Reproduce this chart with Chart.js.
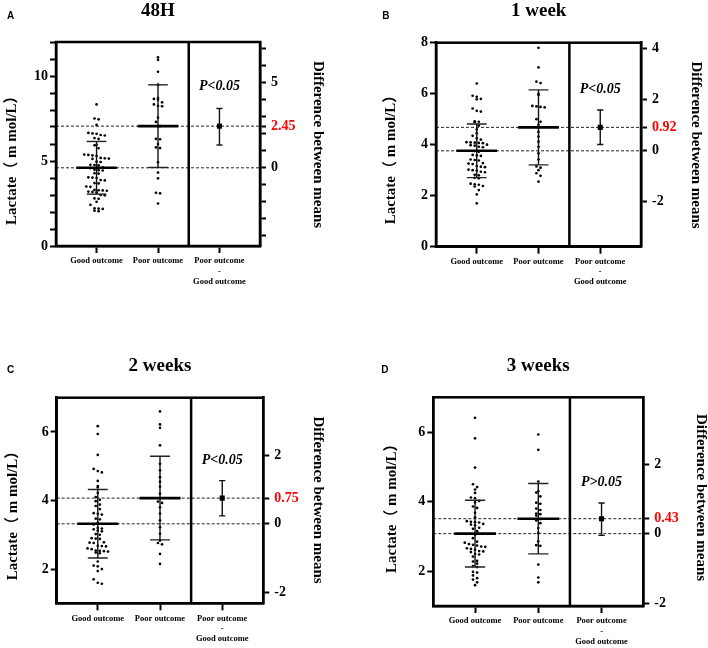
<!DOCTYPE html>
<html><head><meta charset="utf-8">
<script src="https://cdn.jsdelivr.net/npm/chart.js@4.4.0/dist/chart.umd.min.js"></script>
<style>
html,body{margin:0;padding:0;background:#fff;}
#wrap{position:relative;width:708px;height:648px;overflow:hidden;}
canvas{position:absolute;}
</style></head><body>
<div id="wrap">
<canvas id="cA" width="354" height="324" style="left:0;top:0"></canvas>
<canvas id="cB" width="354" height="324" style="left:354px;top:0"></canvas>
<canvas id="cC" width="354" height="324" style="left:0;top:324px"></canvas>
<canvas id="cD" width="354" height="324" style="left:354px;top:324px"></canvas>
</div>
<script>
// ---------- data ----------
const panelLetters = ['A','B','C','D'];
const panelTitles = ['48H','1 week','2 weeks','3 weeks'];
const categories = ['Good outcome','Poor outcome',['Poor outcome','-','Good outcome']];
const yAxisTitle = 'Lactate（ m mol/L）';
const y2AxisTitle = 'Difference between means';
const pLabels = ['P<0.05','P<0.05','P<0.05','P>0.05'];

const goodA = [8.33,7.5,7.45,7.12,6.65,6.62,6.6,6.53,6.5,6.35,6.3,5.95,5.92,5.75,5.38,5.36,5.33,5.3,5.18,5.16,5.14,5.12,4.96,4.94,4.78,4.76,4.74,4.62,4.58,4.48,4.46,4.44,4.28,4.26,4.04,4.02,4.0,3.88,3.86,3.7,3.68,3.5,3.48,3.3,3.28,3.27,3.25,3.2,3.18,3.15,3.0,2.98,2.8,2.78,2.6,2.42,2.22,2.2,2.18,2.08,2.05];
const poorA = [11.1,10.95,10.25,9.5,8.7,8.65,8.6,8.45,8.33,8.24,8.22,7.55,7.3,7.05,6.3,6.28,6.0,5.8,5.76,4.92,4.32,3.98,3.13,3.1,2.5];
const goodB = [6.4,5.92,5.88,5.8,5.78,5.42,5.33,5.3,4.92,4.9,4.88,4.75,4.6,4.45,4.35,4.25,4.2,4.1,4.09,4.08,4.07,4.06,4.0,3.98,3.96,3.92,3.9,3.75,3.72,3.6,3.58,3.56,3.42,3.4,3.38,3.28,3.26,3.24,3.16,3.14,3.12,3.02,3.0,2.98,2.94,2.92,2.82,2.8,2.7,2.68,2.47,2.45,2.43,2.38,2.36,2.22,2.05,1.7];
const poorB = [7.8,7.03,6.47,6.42,5.99,5.95,5.52,5.5,5.48,5.46,5.0,4.9,4.78,4.66,4.5,4.32,4.12,3.92,3.66,3.42,3.15,3.1,3.0,2.88,2.78,2.55];
const goodC = [6.17,5.94,5.33,4.92,4.86,4.82,4.57,4.42,4.38,4.22,4.1,4.02,3.98,3.88,3.84,3.75,3.63,3.61,3.59,3.47,3.45,3.35,3.3,3.2,3.18,3.16,3.12,3.1,3.02,3.0,2.9,2.89,2.88,2.78,2.77,2.76,2.68,2.67,2.66,2.6,2.58,2.54,2.53,2.52,2.51,2.48,2.46,2.22,2.1,2.08,2.0,1.94,1.7,1.6,1.57];
const poorC = [6.6,6.22,6.12,5.61,5.07,4.88,4.68,4.55,4.4,4.2,3.97,3.93,3.8,3.62,3.42,3.22,3.03,2.83,2.76,2.72,2.44,2.15];
const goodD = [6.41,5.82,4.98,4.5,4.42,4.35,4.25,4.12,4.1,4.02,3.98,3.86,3.82,3.68,3.55,3.44,3.42,3.41,3.4,3.36,3.34,3.32,3.25,3.22,3.15,3.05,2.95,2.85,2.82,2.78,2.76,2.74,2.71,2.7,2.66,2.64,2.62,2.58,2.57,2.55,2.5,2.48,2.42,2.3,2.28,2.22,2.15,2.12,1.98,1.96,1.88,1.8,1.76,1.68,1.6];
const poorD = [5.93,5.49,4.58,4.3,4.26,4.15,3.97,3.94,3.8,3.76,3.66,3.64,3.6,3.5,3.46,3.38,3.24,3.1,2.86,2.75,2.73,2.19,1.82,1.68];

const goodGroups = [goodA, goodB, goodC, goodD];
const poorGroups = [poorA, poorB, poorC, poorD];
const goodMeans = [4.60, 3.76, 3.32, 3.08];
const goodSDs   = [1.55, 1.05, 1.00, 0.96];
const poorMeans = [7.05, 4.68, 4.07, 3.51];
const poorSDs   = [2.43, 1.47, 1.22, 1.01];
const diffMeans = [2.45, 0.92, 0.75, 0.43];
const diffLow   = [1.34, 0.25, 0.23, -0.05];
const diffHigh  = [3.49, 1.60, 1.26, 0.88];

const yRanges = [[0,12],[0,8],[1,7],[1,7]];
const yTicks = [[0,1,2,3,4,5,6,7,8,9,10,11,12],[0,2,4,6,8],[2,4,6],[2,4,6]];
const yTickLabels = [[0,5,10],[0,2,4,6,8],[2,4,6],[2,4,6]];
const y2Ticks = [[-4,-3,-2,-1,0,1,2,3,4,5,6,7],[-2,0,2,4],[-2,0,2],[-2,0,2]];
const y2TickLabels = [[0,5],[-2,0,2,4],[-2,0,2],[-2,0,2]];

// ---------- layout (canvas coords) ----------
const W = 354, H = 324;
const LAYOUT = [
 {id:'cA', l:56,   r:260,   t:42,   b:246,   titleX:158,   titleY:16,   letterX:7,    letterY:19,   yTitleX:11.7, yTitleY:156.7, y2TitleX:318.3, y2TitleY:144.5, pFrac:0.216},
 {id:'cB', l:82,   r:287,   t:42.7, b:246.7, titleX:184.7, titleY:16,   letterX:28.3, letterY:18.5, yTitleX:37.3, yTitleY:156,   y2TitleX:341.7, y2TitleY:145,   pFrac:0.228},
 {id:'cC', l:56.7, r:263.3, t:73.7, b:279.3, titleX:160,   titleY:46.5, letterX:7,    letterY:49,   yTitleX:13.3, yTitleY:188,   y2TitleX:318.3, y2TitleY:176,   pFrac:0.303},
 {id:'cD', l:79.3, r:289.3, t:73.3, b:282,   titleX:184.2, titleY:46.5, letterX:27.3, letterY:49,   yTitleX:38.3, yTitleY:180.7, y2TitleX:346.7, y2TitleY:173.5, pFrac:0.407}
];
const X_MIN = 0.34, X_MAX = 3.66;
const SERIF = '"Liberation Serif", "Times New Roman", serif';
const MEAN_HALF = 0.33, SD_CAP = 0.16, CI_CAP = 0.05;
const DOT_STEP = 4.1, DOT_BIN = 4.6;

function seg(x1, y1, x2, y2, axis, width, color, dash) {
  return {type:'line', data:[{x:x1,y:y1},{x:x2,y:y2}], yAxisID:axis, borderColor:color,
    borderWidth:width, borderDash:dash || [], pointRadius:0, showLine:true, fill:false};
}

function buildPanel(i) {
  const L = LAYOUT[i];
  const [yMin, yMax] = yRanges[i];
  const gm = goodMeans[i], pm = poorMeans[i], d = diffMeans[i];
  const ds = [];
  ds.push(seg(1-MEAN_HALF, gm, 1+MEAN_HALF, gm, 'y', 2.6, '#000'));
  ds.push(seg(2-MEAN_HALF, pm, 2+MEAN_HALF, pm, 'y', 2.6, '#000'));
  [[1, gm, goodSDs[i]], [2, pm, poorSDs[i]]].forEach(([c, m, s]) => {
    ds.push(seg(c, m - s, c, m + s, 'y', 1.4, '#111'));
    ds.push(seg(c - SD_CAP, m - s, c + SD_CAP, m - s, 'y', 1.4, '#222'));
    ds.push(seg(c - SD_CAP, m + s, c + SD_CAP, m + s, 'y', 1.4, '#222'));
  });
  ds.push({type:'line', showLine:false, yAxisID:'y2', data:[{x:3, y:d}], pointStyle:'rect',
    pointRadius:3.6, pointBackgroundColor:'#000', pointBorderColor:'#000', pointBorderWidth:0});
  ds.push(seg(3, diffLow[i], 3, diffHigh[i], 'y2', 1.4, '#111'));
  ds.push(seg(3 - CI_CAP, diffLow[i], 3 + CI_CAP, diffLow[i], 'y2', 1.4, '#111'));
  ds.push(seg(3 - CI_CAP, diffHigh[i], 3 + CI_CAP, diffHigh[i], 'y2', 1.4, '#111'));
  const goodIdx = ds.length;
  ds.push({type:'line', showLine:false, yAxisID:'y', data: goodGroups[i].map(v => ({x:1, y:v})),
    pointRadius:1.35, pointBackgroundColor:'#000', pointBorderWidth:0});
  const poorIdx = ds.length;
  ds.push({type:'line', showLine:false, yAxisID:'y', data: poorGroups[i].map(v => ({x:2, y:v})),
    pointRadius:1.35, pointBackgroundColor:'#000', pointBorderWidth:0});
  ds.push(seg(2.5, yMin, 2.5, yMax, 'y', 2.5, '#000'));
  ds.push(seg(X_MIN, gm, X_MAX, gm, 'y', 1, '#222', [3, 2]));
  ds.push(seg(X_MIN, pm, X_MAX, pm, 'y', 1, '#222', [3, 2]));

  const tickFont = {family: SERIF, weight: 'bold', size: 14};
  const isDiff = v => Math.abs(v - d) < 1e-9;

  const decor = {
    id: 'decor' + i,
    afterDraw(chart) {
      const ctx = chart.ctx, a = chart.chartArea;
      ctx.save();
      ctx.strokeStyle = '#000'; ctx.lineWidth = 2.5;
      ctx.strokeRect(a.left, a.top, a.right - a.left, a.bottom - a.top);
      ctx.fillStyle = '#000';
      ctx.font = 'bold 10px "Liberation Sans", Arial, sans-serif';
      ctx.textAlign = 'left'; ctx.textBaseline = 'alphabetic';
      ctx.fillText(panelLetters[i], L.letterX, L.letterY);
      ctx.font = 'bold 19px ' + SERIF;
      ctx.textAlign = 'center';
      ctx.fillText(panelTitles[i], L.titleX, L.titleY);
      ctx.font = 'italic bold 14px ' + SERIF;
      ctx.textBaseline = 'middle';
      ctx.fillText(pLabels[i], chart.scales.x.getPixelForValue(3), a.top + L.pFrac * (a.bottom - a.top));
      ctx.font = 'bold 15px "Liberation Serif", "Noto Sans CJK SC", serif';
      ctx.save(); ctx.translate(L.yTitleX, L.yTitleY); ctx.rotate(-Math.PI/2);
      ctx.fillText(yAxisTitle, 0, 0); ctx.restore();
      ctx.save(); ctx.translate(L.y2TitleX, L.y2TitleY); ctx.rotate(Math.PI/2);
      ctx.fillText(y2AxisTitle, 0, 0); ctx.restore();
      ctx.restore();
    }
  };

  const chart = new Chart(document.getElementById(L.id), {
    type: 'line',
    data: {datasets: ds},
    options: {
      responsive: false, animation: false, events: [],
      layout: {padding: {top: L.t, left: 0, right: 0, bottom: 0}},
      plugins: {legend: {display: false}, tooltip: {enabled: false}, title: {display: false}},
      scales: {
        x: {
          type: 'linear', min: X_MIN, max: X_MAX,
          afterBuildTicks: s => { s.ticks = [1, 2, 3].map(v => ({value: v})); },
          afterFit: s => { s.height = H - L.b; },
          ticks: {callback: v => categories[Math.round(v) - 1], color: '#000', autoSkip: false,
            maxRotation: 0, minRotation: 0, padding: 3,
            font: {family: SERIF, weight: 'bold', size: 8.5, lineHeight: 1.2}},
          grid: {drawOnChartArea: false, drawTicks: true, tickLength: 7, tickWidth: 2, tickColor: '#000'},
          border: {display: true, color: '#000', width: 2.5}
        },
        y: {
          type: 'linear', position: 'left', min: yMin, max: yMax,
          afterBuildTicks: s => { s.ticks = yTicks[i].map(v => ({value: v})); },
          afterFit: s => { s.width = L.l; },
          ticks: {callback: v => yTickLabels[i].includes(v) ? String(v) : '', color: '#000',
            autoSkip: false, padding: 2, font: tickFont},
          grid: {drawOnChartArea: false, drawTicks: true, tickLength: 6, tickWidth: 2, tickColor: '#000'},
          border: {display: true, color: '#000', width: 2.5}
        },
        y2: {
          type: 'linear', position: 'right', min: yMin - gm, max: yMax - gm,
          afterBuildTicks: s => { s.ticks = y2Ticks[i].concat([d]).map(v => ({value: v})); },
          afterFit: s => { s.width = W - L.r; },
          ticks: {callback: v => isDiff(v) ? d.toFixed(2) : (y2TickLabels[i].includes(v) ? String(v) : ''),
            color: c => isDiff(c.tick.value) ? '#ff0000' : '#000',
            autoSkip: false, padding: 5, font: tickFont},
          grid: {drawOnChartArea: false, drawTicks: true, tickLength: 6, tickWidth: 2, tickColor: '#000'},
          border: {display: true, color: '#000', width: 2.5}
        }
      }
    },
    plugins: [decor]
  });

  function swarm(values, center) {
    const ys = chart.scales.y, xs = chart.scales.x;
    const unit = xs.getPixelForValue(1) - xs.getPixelForValue(0);
    const bins = {};
    values.forEach((v, k) => {
      const b = Math.round(ys.getPixelForValue(v) / DOT_BIN);
      (bins[b] = bins[b] || []).push(k);
    });
    const out = new Array(values.length);
    Object.keys(bins).forEach(b => {
      const idx = bins[b], n = idx.length;
      idx.forEach((k, j) => { out[k] = center + (j - (n - 1) / 2) * DOT_STEP / unit; });
    });
    return values.map((v, k) => ({x: out[k], y: v}));
  }
  chart.data.datasets[goodIdx].data = swarm(goodGroups[i], 1);
  chart.data.datasets[poorIdx].data = swarm(poorGroups[i], 2);
  chart.update('none');
}

for (let i = 0; i < 4; i++) buildPanel(i);
</script>
</body></html>
